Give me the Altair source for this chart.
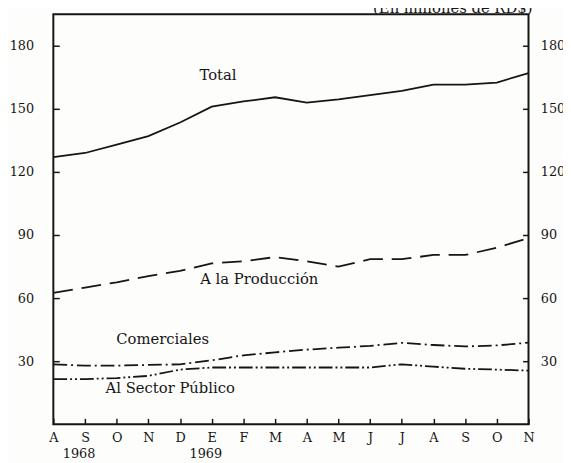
import altair as alt
import pandas as pd

months = ["A", "S", "O", "N", "D", "E", "F", "M", "A", "M", "J", "J", "A", "S", "O", "N"]
total = [127, 129, 133, 137, 143.5, 151, 153.5, 155.5, 153, 154.5, 156.5, 158.5, 161.5, 161.5, 162.5, 167]
produccion = [62.5, 65, 67.5, 70.5, 73, 76.5, 77.5, 79.5, 77.5, 75, 78.5, 78.5, 80.5, 80.5, 84, 88.5]
comerciales = [28.5, 27.9, 27.9, 28.2, 28.5, 30.4, 32.8, 34.2, 35.5, 36.4, 37.3, 38.7, 37.7, 37, 37.5, 38.8]
sector_publico = [21.5, 21.5, 22, 23, 26, 27, 27, 27, 27, 27, 27, 28.5, 27.4, 26.4, 26, 25.5]
y_ticks = [30, 60, 90, 120, 150, 180]
years = ["1968", "1969"]
year_idx = [1, 5]
series_labels = ["Total", "A la Producción", "Comerciales", "Al Sector Público"]
label_idx = [5.2, 6.5, 3.45, 1.65]
label_val = [166, 69, 40.5, 17.3]

W, H = 482, 416
FONT = "DejaVu Serif"
INK = "#151515"

idx = list(range(len(months)))
xs = alt.Scale(domain=[0, 15], nice=False, zero=False)
ys = alt.Scale(domain=[0, 195], nice=False, zero=False)

label_expr = "[" + ",".join("'%s'" % m for m in months) + "][datum.value]"

x_axis = alt.Axis(
    values=idx, labelExpr=label_expr, orient="bottom", offset=-6,
    tickSize=6, tickWidth=1.5, tickColor=INK, domain=False, grid=False,
    labelPadding=7, labelFont=FONT, labelFontSize=13, labelColor=INK,
    labelFlush=False, labelOverlap=False, title=None)
y_left = alt.Axis(
    values=y_ticks, orient="left", offset=-6, tickSize=6, tickWidth=1.5,
    tickColor=INK, domain=False, grid=False, labelPadding=20,
    labelFont=FONT, labelFontSize=13, labelColor=INK, title=None)
y_right = alt.Axis(
    values=y_ticks, orient="right", offset=-6, tickSize=6, tickWidth=1.5,
    tickColor=INK, domain=False, grid=False, labelPadding=12,
    labelFont=FONT, labelFontSize=13, labelColor=INK, title=None)

XE = alt.X("i:Q", scale=xs, axis=x_axis)
YE = alt.Y("v:Q", scale=ys, axis=y_left)


def series_layer(vals, dash):
    df = pd.DataFrame({"i": idx, "v": vals})
    kw = dict(color=INK, strokeWidth=1.8)
    if dash:
        kw["strokeDash"] = dash
    return alt.Chart(df).mark_line(**kw).encode(x=XE, y=YE)


l_total = series_layer(total, None)
l_prod = series_layer(produccion, [20, 9])
l_com = series_layer(comerciales, [14, 4, 2, 4])
l_sec = series_layer(sector_publico, [14, 3, 2, 3, 2, 3])

lab_df = pd.DataFrame({"i": label_idx, "v": label_val, "t": series_labels})
labels_c = alt.Chart(lab_df.iloc[:3]).mark_text(
    font=FONT, fontSize=15, color=INK, align="center", baseline="middle").encode(
    x=XE, y=YE, text="t:N")
labels_l = alt.Chart(lab_df.iloc[3:]).mark_text(
    font=FONT, fontSize=15, color=INK, align="left", baseline="middle").encode(
    x=XE, y=YE, text="t:N")

yr_df = pd.DataFrame({"i": year_idx, "t": years})
year_text = alt.Chart(yr_df).mark_text(
    font=FONT, fontSize=13, color=INK, align="center", baseline="middle", dx=-6).encode(
    x=XE, y=alt.value(H + 30), text="t:N")

title_text = alt.Chart(pd.DataFrame({"t": ["(En millones de RD$)"]})).mark_text(
    font=FONT, fontSize=15, color=INK, align="right", baseline="alphabetic").encode(
    x=alt.value(486), y=alt.value(-1), text="t:N")

main = alt.layer(l_total, l_prod, l_com, l_sec, labels_c, labels_l, year_text, title_text)

right_axis = alt.Chart(pd.DataFrame({"i": idx, "v": total})).mark_line(opacity=0).encode(
    x=XE, y=alt.Y("v:Q", scale=ys, axis=y_right))

chart = alt.layer(main, right_axis).resolve_axis(y="independent").properties(
    width=W, height=H,
    autosize=alt.AutoSizeParams(type="none"),
    padding={"left": 46, "top": 3, "right": 35, "bottom": 36},
    background="#fdfdfb",
).configure_view(stroke=INK, strokeWidth=2)

chart.save("out.html", embed_options={"renderer": "svg", "actions": False})
